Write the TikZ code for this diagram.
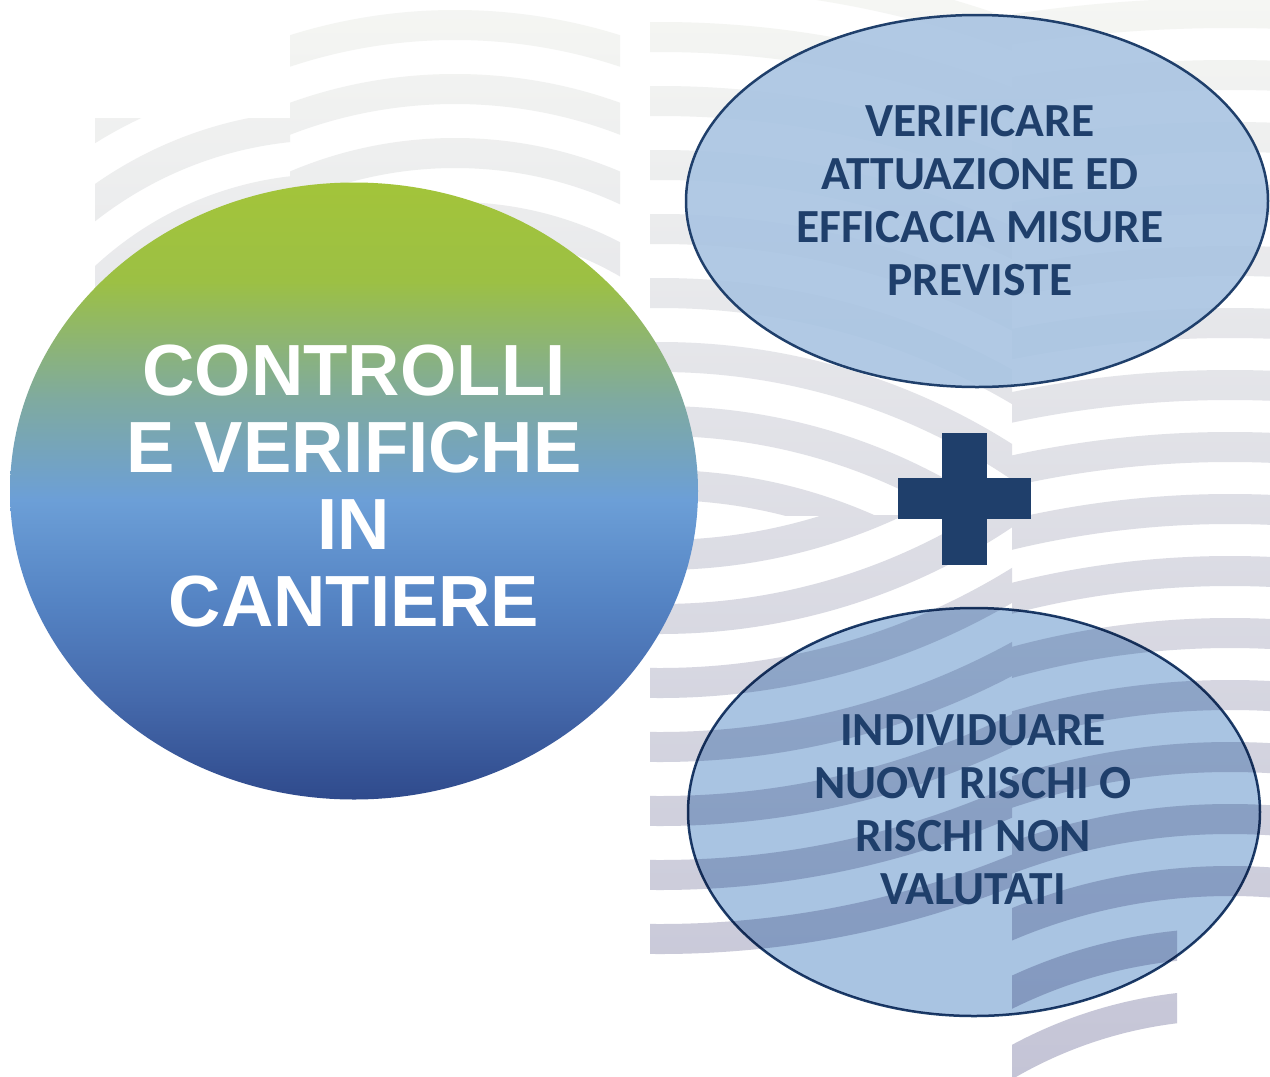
\documentclass[tikz,border=0pt]{standalone}
\usepackage{fontspec}
\usetikzlibrary{shapes.geometric,calc}
\newfontfamily\arialfont{Liberation Sans}
\newfontfamily\califont{Carlito}
\definecolor{navy}{HTML}{1F3F6B}
\definecolor{ellfill}{HTML}{A9C4E2}
\definecolor{wv1}{HTML}{F5F6F3}
\definecolor{wv2}{HTML}{EBF0F7}
\definecolor{wv3}{HTML}{C4C4D6}
\definecolor{c1}{HTML}{A3C43A}
\definecolor{c2}{HTML}{9CC044}
\definecolor{c3}{HTML}{7FAAA0}
\definecolor{c4}{HTML}{6C9FD7}
\definecolor{c5}{HTML}{5584C4}
\definecolor{c6}{HTML}{4569AB}
\definecolor{c7}{HTML}{2F4A8C}
\pgfdeclareverticalshading{bigball}{100bp}{color(0bp)=(c7); color(25bp)=(c7); color(33.1bp)=(c6); color(41.2bp)=(c5); color(49.3bp)=(c4); color(57.4bp)=(c3); color(67bp)=(c2); color(75bp)=(c1); color(100bp)=(c1)}
\tikzset{
  wavefill/.style={top color=wv1, middle color=wv2, bottom color=wv3},
  bubble/.style={ellipse, draw=navy, line width=2.5pt, fill=ellfill, inner sep=0pt},
  bubbletext/.style={text=navy, align=center, inner sep=0pt, font=\califont\bfseries\fontsize{47.5}{53}\selectfont},
}
\begin{document}
\begin{tikzpicture}[x=1pt,y=-1pt]
\useasboundingbox (0,0) rectangle (1270,1077);
\fill[white] (0,0) rectangle (1270,1077);
% background waves
\begin{scope}[even odd rule]
  \clip (95,118) rectangle (290,700);
  \clip (330,520) circle[radius=252] circle[radius=282] circle[radius=316] circle[radius=346] circle[radius=380] circle[radius=410] circle[radius=444] circle[radius=474];
  \shade[wavefill] (0,0) rectangle (1270,1077);
\end{scope}
\begin{scope}[even odd rule]
  \clip (290,0) rectangle (620,700);
  \clip (455,560) circle[radius=264] circle[radius=294] circle[radius=328] circle[radius=358] circle[radius=392] circle[radius=422] circle[radius=456] circle[radius=486] circle[radius=520] circle[radius=550] circle[radius=584] circle[radius=614];
  \shade[wavefill] (0,0) rectangle (1270,1077);
\end{scope}
\begin{scope}[even odd rule]
  \clip (650,0) rectangle (1012,515);
  \clip (660,1000) circle[radius=500] circle[radius=530] circle[radius=564] circle[radius=594] circle[radius=628] circle[radius=658] circle[radius=692] circle[radius=722] circle[radius=756] circle[radius=786] circle[radius=820] circle[radius=850] circle[radius=884] circle[radius=914] circle[radius=948] circle[radius=978] circle[radius=1012] circle[radius=1042];
  \shade[wavefill] (0,0) rectangle (1270,1077);
\end{scope}
\begin{scope}[even odd rule]
  \clip (650,515) rectangle (1012,960);
  \clip (660,0) circle[radius=540] circle[radius=570] circle[radius=604] circle[radius=634] circle[radius=668] circle[radius=698] circle[radius=732] circle[radius=762] circle[radius=796] circle[radius=826] circle[radius=860] circle[radius=890] circle[radius=924] circle[radius=954];
  \shade[wavefill] (0,0) rectangle (1270,1077);
\end{scope}
\begin{scope}[even odd rule]
  \clip (1012,0) -- (1270,0) -- (1270,900) -- (1177,900) -- (1177,1077) -- (1012,1077) -- cycle;
  \clip (1230,1450) circle[radius=430] circle[radius=460] circle[radius=492] circle[radius=522] circle[radius=554] circle[radius=584] circle[radius=616] circle[radius=646] circle[radius=678] circle[radius=708] circle[radius=740] circle[radius=770] circle[radius=802] circle[radius=832] circle[radius=864] circle[radius=894] circle[radius=926] circle[radius=956] circle[radius=988] circle[radius=1018] circle[radius=1050] circle[radius=1080] circle[radius=1112] circle[radius=1142] circle[radius=1174] circle[radius=1204] circle[radius=1236] circle[radius=1266] circle[radius=1298] circle[radius=1328] circle[radius=1360] circle[radius=1390] circle[radius=1422] circle[radius=1452] circle[radius=1484] circle[radius=1514];
  \shade[wavefill] (0,0) rectangle (1270,1077);
\end{scope}
% main circle
\node[ellipse, minimum width=688pt, minimum height=617pt, inner sep=0pt, shading=bigball] (main) at (354,491) {};
\node[text=white, align=center, inner sep=0pt, font=\arialfont\bfseries\fontsize{72.5}{77}\selectfont]
  (maintext) at (354,486) {CONTROLLI\\E VERIFICHE\\IN\\CANTIERE};
% right ellipses
\node[bubble, fill opacity=0.9, minimum width=582pt, minimum height=372pt] (top) at (977,201) {};
\node[bubbletext] (toptext) at (980,201) {VERIFICARE\\ATTUAZIONE ED\\EFFICACIA MISURE\\PREVISTE};
\node[bubble, blend mode=multiply, minimum width=572pt, minimum height=408pt] (bottom) at (974,812) {};
\node[bubbletext] (bottomtext) at (973,810) {INDIVIDUARE\\NUOVI RISCHI O\\RISCHI NON\\VALUTATI};
% plus sign
\coordinate (plus) at (964.5,498.5);
\fill[navy] ($(plus)+(-22.5,-66)$) rectangle ($(plus)+(22.5,66)$);
\fill[navy] ($(plus)+(-66.5,-20.5)$) rectangle ($(plus)+(66.5,20.5)$);
\end{tikzpicture}
\end{document}
